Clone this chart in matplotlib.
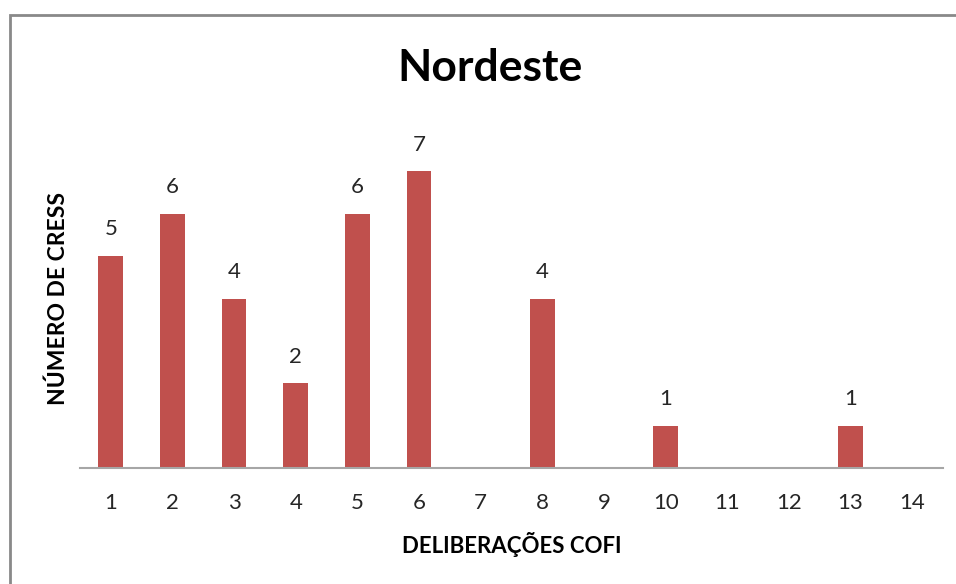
import matplotlib.pyplot as plt
from matplotlib.patches import Rectangle

plt.rcParams['font.family'] = ['Lato', 'DejaVu Sans']

deliberacoes = list(range(1, 15))
num_cress = [5, 6, 4, 2, 6, 7, 0, 4, 0, 1, 0, 0, 1, 0]

fig = plt.figure(figsize=(9.56, 5.84), dpi=100)
W, H = 956, 584

# chart area border (top and left visible)
fig.patches.append(Rectangle((10 / W, -0.1), 1.2, 1 - 15 / H + 0.1,
                             transform=fig.transFigure, fill=False,
                             edgecolor='#898989', linewidth=2))

ax = fig.add_axes([80 / W, 116 / H, 863 / W, 339 / H])
bars = ax.bar(deliberacoes, num_cress, width=0.4, color='#C0504D')
for x, v in zip(deliberacoes, num_cress):
    if v > 0:
        ax.annotate(str(v), (x, v), xytext=(0, 12), textcoords='offset points',
                    ha='center', va='bottom', fontsize=16, color='#262626')

ax.set_xlim(0.5, 14.5)
ax.set_ylim(0, 8)
ax.set_xticks(deliberacoes)
ax.set_xticklabels([str(d) for d in deliberacoes], fontsize=16, color='#262626')
ax.tick_params(axis='x', length=0, pad=18)
ax.set_yticks([])
for s in ['top', 'right', 'left']:
    ax.spines[s].set_visible(False)
ax.spines['bottom'].set_color('#a6a6a6')
ax.spines['bottom'].set_linewidth(1.5)

ax.set_xlabel('DELIBERAÇÕES COFI', fontsize=16, fontweight='bold', labelpad=14)
ax.set_ylabel('NÚMERO DE CRESS', fontsize=16.5, fontweight='bold', labelpad=8)

fig.text(490 / W, 1 - 68 / H, 'Nordeste', ha='center', va='center',
         fontsize=32, fontweight='bold')

fig.savefig('out.png', dpi=100)
